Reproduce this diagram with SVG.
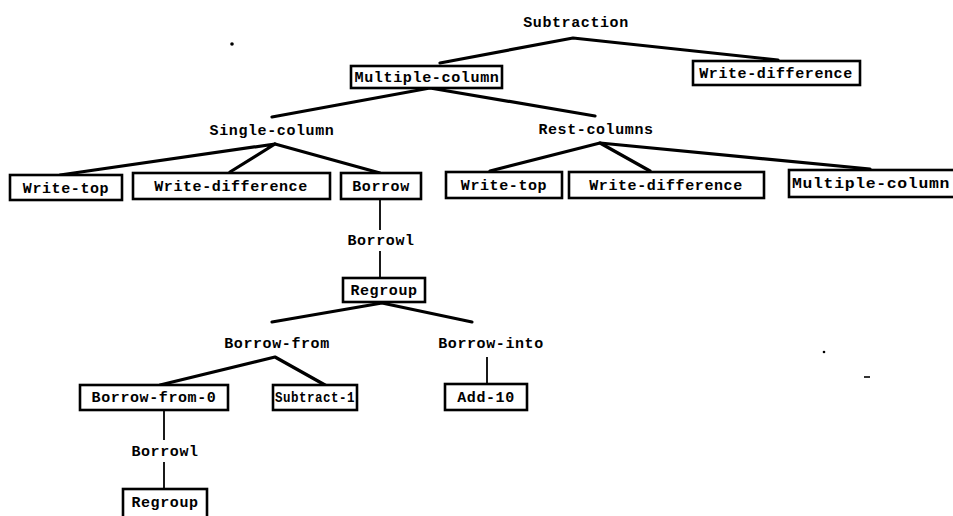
<svg xmlns="http://www.w3.org/2000/svg" width="953" height="516" viewBox="0 0 953 516">
<style>
text{font-family:"Liberation Mono","DejaVu Sans Mono",monospace;font-weight:bold;font-size:15px;letter-spacing:0.6px;fill:#000;text-anchor:middle}
.box{fill:#fff;stroke:#000;stroke-width:2.6}
.br{fill:none;stroke:#000;stroke-width:3.2;stroke-linecap:round;stroke-linejoin:round}
.vl{fill:none;stroke:#000;stroke-width:1.8}
</style>
<rect width="953" height="516" fill="#fff"/>
<g id="connectors">
<polyline class="br" points="440,63 573,38 778,60"/>
<polyline class="br" points="272,117 430,88 595,116"/>
<polyline class="br" points="60,175 275,144 230,172"/>
<polyline class="br" points="275,144 380,173"/>
<polyline class="br" points="490,171 600,143 650,171"/>
<polyline class="br" points="600,143 870,169"/>
<line class="vl" x1="380" y1="200" x2="380" y2="230"/>
<line class="vl" x1="380" y1="251" x2="380" y2="277"/>
<polyline class="br" points="272,322 382,303 472,322"/>
<polyline class="br" points="160,385 275,357 325,385"/>
<line class="vl" x1="487" y1="357" x2="487" y2="384"/>
<line class="vl" x1="164" y1="410" x2="164" y2="440"/>
<line class="vl" x1="164" y1="462" x2="164" y2="489"/>
</g>
<g id="n-subtraction"><text x="576" y="27">Subtraction</text></g>
<g id="n-multiple-column"><rect class="box" x="351" y="66" width="151" height="22"/><text x="427" y="82" textLength="145" lengthAdjust="spacingAndGlyphs">Multiple-column</text></g>
<g id="n-write-difference-top"><rect class="box" x="693" y="61" width="167" height="24"/><text x="776" y="78">Write-difference</text></g>
<g id="n-single-column"><text x="272" y="135">Single-column</text></g>
<g id="n-rest-columns"><text x="596" y="134">Rest-columns</text></g>
<g id="n-write-top-1"><rect class="box" x="10" y="175" width="112" height="25"/><text x="66" y="193">Write-top</text></g>
<g id="n-write-difference-1"><rect class="box" x="133" y="173" width="197" height="26"/><text x="231" y="191">Write-difference</text></g>
<g id="n-borrow"><rect class="box" x="341" y="173" width="80" height="26"/><text x="381" y="191">Borrow</text></g>
<g id="n-write-top-2"><rect class="box" x="446" y="172" width="116" height="26"/><text x="504" y="190">Write-top</text></g>
<g id="n-write-difference-2"><rect class="box" x="569" y="172" width="195" height="26"/><text x="666" y="190">Write-difference</text></g>
<g id="n-multiple-column-2"><rect class="box" x="789" y="170" width="166" height="27"/><text x="871" y="188" textLength="158" lengthAdjust="spacingAndGlyphs">Multiple-column</text></g>
<g id="n-borrow1-a"><text x="381" y="245">Borrowl</text></g>
<g id="n-regroup-1"><rect class="box" x="343" y="278" width="82" height="24"/><text x="384" y="295">Regroup</text></g>
<g id="n-borrow-from"><text x="277" y="348">Borrow-from</text></g>
<g id="n-borrow-into"><text x="491" y="348">Borrow-into</text></g>
<g id="n-borrow-from-0"><rect class="box" x="80" y="385" width="148" height="25"/><text x="154" y="402">Borrow-from-0</text></g>
<g id="n-subtract-1"><rect class="box" x="273" y="385" width="84" height="25"/><text x="315" y="402" textLength="80" lengthAdjust="spacingAndGlyphs">Subtract-1</text></g>
<g id="n-add-10"><rect class="box" x="445" y="384" width="82" height="26"/><text x="486" y="402">Add-10</text></g>
<g id="n-borrow1-b"><text x="165" y="456">Borrowl</text></g>
<g id="n-regroup-2"><rect class="box" x="123" y="489" width="84" height="30"/><text x="165" y="507">Regroup</text></g>
<circle cx="232" cy="44" r="1.8" fill="#000"/>
<circle cx="824" cy="352" r="1.3" fill="#000"/>
<line x1="864" y1="377" x2="870" y2="377" stroke="#000" stroke-width="1.6"/>
</svg>
